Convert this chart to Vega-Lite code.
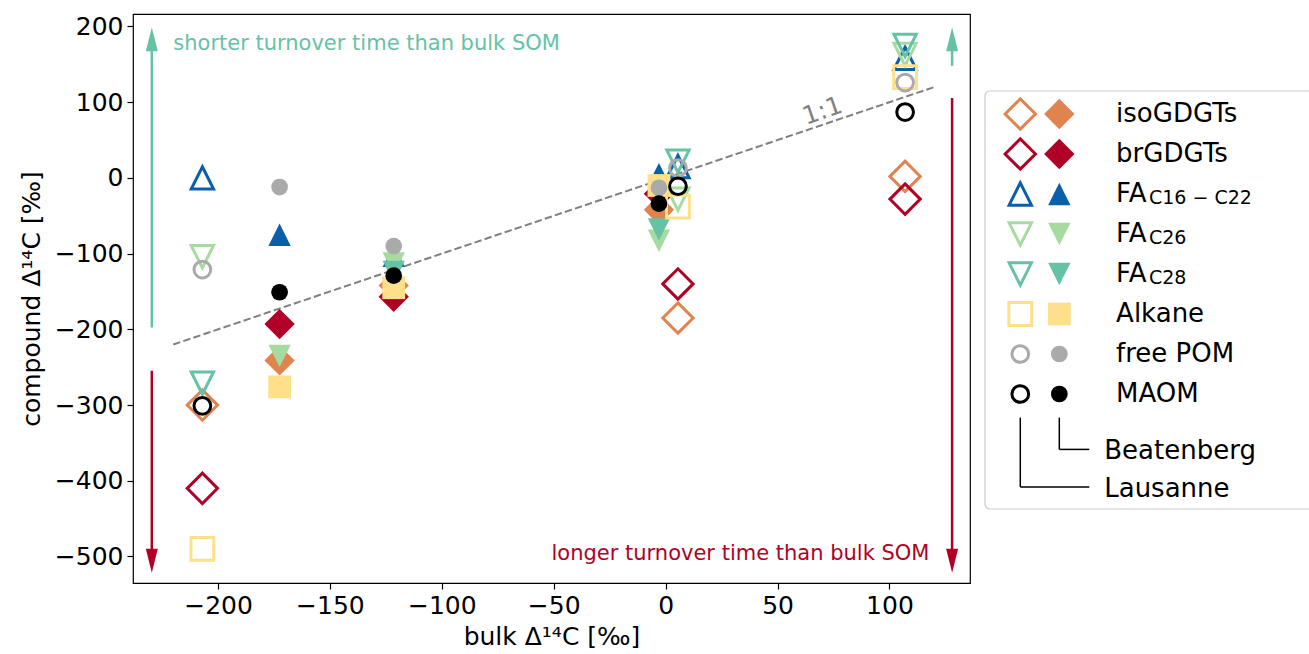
{
  "$schema": "https://vega.github.io/schema/vega-lite/v6.json",
  "padding": {"left": 18, "top": 13, "right": 0, "bottom": 0},
  "spacing": 0,
  "background": "white",
  "config": {
    "font": "DejaVu Sans",
    "axis": {"labelFont": "DejaVu Sans", "titleFont": "DejaVu Sans", "labelFontSize": 25, "titleFontSize": 25, "labelColor": "black", "titleColor": "black", "titleFontWeight": "normal", "tickColor": "black", "tickSize": 6, "tickWidth": 1.2, "domain": false, "grid": false, "labelPadding": 4},
    "view": {"stroke": null}
  },
  "resolve": {"scale": {"x": "independent", "y": "independent", "shape": "independent", "size": "independent", "stroke": "independent", "fill": "independent"}},
  "datasets": {
    "pts": [
      {"group": "isoGDGTs", "site": "Lausanne", "bulk": -207, "compound": -300},
      {"group": "isoGDGTs", "site": "Beatenberg", "bulk": -172.5, "compound": -241},
      {"group": "isoGDGTs", "site": "Beatenberg", "bulk": -121.5, "compound": -142},
      {"group": "isoGDGTs", "site": "Beatenberg", "bulk": -3, "compound": -42},
      {"group": "isoGDGTs", "site": "Lausanne", "bulk": 5.5, "compound": -185},
      {"group": "isoGDGTs", "site": "Lausanne", "bulk": 107, "compound": 2},
      {"group": "brGDGTs", "site": "Lausanne", "bulk": -207, "compound": -410},
      {"group": "brGDGTs", "site": "Beatenberg", "bulk": -172.5, "compound": -193},
      {"group": "brGDGTs", "site": "Beatenberg", "bulk": -121.5, "compound": -157},
      {"group": "brGDGTs", "site": "Beatenberg", "bulk": -3, "compound": -21},
      {"group": "brGDGTs", "site": "Lausanne", "bulk": 5.5, "compound": -140},
      {"group": "brGDGTs", "site": "Lausanne", "bulk": 107, "compound": -28},
      {"group": "FA16", "site": "Lausanne", "bulk": -207, "compound": 0},
      {"group": "FA16", "site": "Beatenberg", "bulk": -172.5, "compound": -75},
      {"group": "FA16", "site": "Beatenberg", "bulk": -121.5, "compound": -103},
      {"group": "FA16", "site": "Beatenberg", "bulk": -3, "compound": 5},
      {"group": "FA16", "site": "Lausanne", "bulk": 5.5, "compound": 15},
      {"group": "FA16", "site": "Lausanne", "bulk": 107, "compound": 158},
      {"group": "FA26", "site": "Lausanne", "bulk": -207, "compound": -104},
      {"group": "FA26", "site": "Beatenberg", "bulk": -172.5, "compound": -235},
      {"group": "FA26", "site": "Beatenberg", "bulk": -121.5, "compound": -113},
      {"group": "FA26", "site": "Beatenberg", "bulk": -3, "compound": -83},
      {"group": "FA26", "site": "Lausanne", "bulk": 5.5, "compound": -28},
      {"group": "FA26", "site": "Lausanne", "bulk": 107, "compound": 163},
      {"group": "FA28", "site": "Lausanne", "bulk": -207, "compound": -271},
      {"group": "FA28", "site": "Beatenberg", "bulk": -121.5, "compound": -124},
      {"group": "FA28", "site": "Beatenberg", "bulk": -3, "compound": -68},
      {"group": "FA28", "site": "Lausanne", "bulk": 5.5, "compound": 22},
      {"group": "FA28", "site": "Lausanne", "bulk": 107, "compound": 175},
      {"group": "Alkane", "site": "Lausanne", "bulk": -207, "compound": -490},
      {"group": "Alkane", "site": "Beatenberg", "bulk": -172.5, "compound": -276},
      {"group": "Alkane", "site": "Beatenberg", "bulk": -121.5, "compound": -145},
      {"group": "Alkane", "site": "Beatenberg", "bulk": -3, "compound": -10},
      {"group": "Alkane", "site": "Lausanne", "bulk": 5.5, "compound": -38},
      {"group": "Alkane", "site": "Lausanne", "bulk": 107, "compound": 133},
      {"group": "freePOM", "site": "Lausanne", "bulk": -207, "compound": -121},
      {"group": "freePOM", "site": "Beatenberg", "bulk": -172.5, "compound": -12},
      {"group": "freePOM", "site": "Beatenberg", "bulk": -121.5, "compound": -90},
      {"group": "freePOM", "site": "Beatenberg", "bulk": -3, "compound": -13},
      {"group": "freePOM", "site": "Lausanne", "bulk": 5.5, "compound": 13},
      {"group": "freePOM", "site": "Lausanne", "bulk": 107, "compound": 126},
      {"group": "MAOM", "site": "Lausanne", "bulk": -207, "compound": -301},
      {"group": "MAOM", "site": "Beatenberg", "bulk": -172.5, "compound": -151},
      {"group": "MAOM", "site": "Beatenberg", "bulk": -121.5, "compound": -129},
      {"group": "MAOM", "site": "Beatenberg", "bulk": -3, "compound": -34},
      {"group": "MAOM", "site": "Lausanne", "bulk": 5.5, "compound": -11},
      {"group": "MAOM", "site": "Lausanne", "bulk": 107, "compound": 87}
    ],
    "groups": [
      {"group": "isoGDGTs", "r": 0, "label": "isoGDGTs", "sub": ""},
      {"group": "brGDGTs", "r": 1, "label": "brGDGTs", "sub": ""},
      {"group": "FA16", "r": 2, "label": "FA", "sub": "C16 − C22"},
      {"group": "FA26", "r": 3, "label": "FA", "sub": "C26"},
      {"group": "FA28", "r": 4, "label": "FA", "sub": "C28"},
      {"group": "Alkane", "r": 5, "label": "Alkane", "sub": ""},
      {"group": "freePOM", "r": 6, "label": "free POM", "sub": ""},
      {"group": "MAOM", "r": 7, "label": "MAOM", "sub": ""}
    ]
  },
  "hconcat": [
    {
      "width": 837,
      "height": 569,
      "view": {"stroke": "black", "strokeWidth": 1.2},
      "encoding": {
        "x": {"field": "bulk", "type": "quantitative", "scale": {"domain": [-238, 136], "nice": false, "zero": false}, "axis": {"values": [-200, -150, -100, -50, 0, 50, 100], "title": "bulk Δ¹⁴C [‰]", "titlePadding": 6}},
        "y": {"field": "compound", "type": "quantitative", "scale": {"domain": [-535, 216.5], "nice": false, "zero": false}, "axis": {"values": [-500, -400, -300, -200, -100, 0, 100, 200], "title": "compound Δ¹⁴C [‰]", "titlePadding": 10}}
      },
      "layer": [
        {
          "data": {"values": [{"bulk": -220, "compound": -220}, {"bulk": 120, "compound": 120}]},
          "mark": {"type": "line", "color": "#808080", "strokeWidth": 2, "strokeDash": [7.4, 3.2]}
        },
        {
          "data": {"values": [{"bulk": -229.6, "compound": -197.5, "compound2": 170}, {"bulk": 128, "compound": 148, "compound2": 170}]},
          "mark": {"type": "rule", "color": "#66c2a5", "strokeWidth": 2.5},
          "encoding": {"y2": {"field": "compound2"}}
        },
        {
          "data": {"values": [{"bulk": -229.6, "compound": -254.7, "compound2": -495}, {"bulk": 128, "compound": 105.5, "compound2": -495}]},
          "mark": {"type": "rule", "color": "#b10026", "strokeWidth": 2.5},
          "encoding": {"y2": {"field": "compound2"}}
        },
        {
          "data": {"values": [{"bulk": -229.6, "compound": 183}, {"bulk": 128, "compound": 183}]},
          "mark": {"type": "point", "shape": "M-0.5,1L0,-1L0.5,1Z", "size": 576, "filled": true, "color": "#66c2a5", "opacity": 1, "strokeWidth": 0}
        },
        {
          "data": {"values": [{"bulk": -229.6, "compound": -505.5}, {"bulk": 128, "compound": -505.5}]},
          "mark": {"type": "point", "shape": "M-0.5,-1L0,1L0.5,-1Z", "size": 576, "filled": true, "color": "#b10026", "opacity": 1, "strokeWidth": 0}
        },
        {
          "data": {"values": [{"bulk": -220, "compound": 177.3, "note": "shorter turnover time than bulk SOM"}]},
          "mark": {"type": "text", "align": "left", "baseline": "middle", "fontSize": 21, "color": "#66c2a5", "font": "DejaVu Sans"},
          "encoding": {"text": {"field": "note"}}
        },
        {
          "data": {"values": [{"bulk": 117.9, "compound": -496.4, "note": "longer turnover time than bulk SOM"}]},
          "mark": {"type": "text", "align": "right", "baseline": "middle", "fontSize": 21, "color": "#b10026", "font": "DejaVu Sans"},
          "encoding": {"text": {"field": "note"}}
        },
        {
          "data": {"values": [{"bulk": 70, "compound": 88.5, "note": "1:1"}]},
          "mark": {"type": "text", "align": "center", "baseline": "middle", "fontSize": 25, "color": "#808080", "angle": -19, "font": "DejaVu Sans"},
          "encoding": {"text": {"field": "note"}}
        },
        {
          "data": {"name": "pts"},
          "mark": {"type": "point", "opacity": 1, "fillOpacity": 1, "strokeOpacity": 1},
          "encoding": {
            "shape": {"field": "group", "type": "nominal", "legend": null, "scale": {"type": "ordinal", "domain": ["isoGDGTs", "brGDGTs", "FA16", "FA26", "FA28", "Alkane", "freePOM", "MAOM"], "range": ["diamond", "diamond", "M0,-1L1,1L-1,1Z", "M0,1L1,-1L-1,-1Z", "M0,1L1,-1L-1,-1Z", "square", "circle", "circle"]}},
            "size": {"field": "group", "type": "nominal", "legend": null, "scale": {"type": "ordinal", "domain": ["isoGDGTs", "brGDGTs", "FA16", "FA26", "FA28", "Alkane", "freePOM", "MAOM"], "range": [920, 920, 500, 500, 500, 520, 280, 280]}},
            "stroke": {"field": "group", "type": "nominal", "legend": null, "scale": {"type": "ordinal", "domain": ["isoGDGTs", "brGDGTs", "FA16", "FA26", "FA28", "Alkane", "freePOM", "MAOM"], "range": ["#e0844f", "#b10026", "#0a5eaa", "#a6dba0", "#66c2a5", "#fee08b", "#aaaaaa", "#000000"]}},
            "fill": {"condition": {"test": "datum.site === 'Beatenberg'", "field": "group", "type": "nominal", "legend": null, "scale": {"type": "ordinal", "domain": ["isoGDGTs", "brGDGTs", "FA16", "FA26", "FA28", "Alkane", "freePOM", "MAOM"], "range": ["#e0844f", "#b10026", "#0a5eaa", "#a6dba0", "#66c2a5", "#fee08b", "#aaaaaa", "#000000"]}}, "value": "transparent"},
            "strokeWidth": {"condition": {"test": "datum.site === 'Lausanne'", "value": 3}, "value": 0}
          }
        }
      ]
    },
    {
      "width": 339,
      "height": 569,
      "encoding": {
        "y": {"field": "r", "type": "quantitative", "scale": {"domain": [-2.5, 11.725], "nice": false, "zero": false, "reverse": true}, "axis": null}
      },
      "layer": [
        {
          "data": {"values": [{"xa": 4.13, "xb": 101, "r": -0.575, "rb": 9.875}]},
          "mark": {"type": "rect", "fill": "white", "stroke": "#cccccc", "strokeWidth": 1.2, "cornerRadius": 5},
          "encoding": {
            "x": {"field": "xa", "type": "quantitative", "scale": {"domain": [0, 100], "nice": false, "zero": false}, "axis": null},
            "x2": {"field": "xb"},
            "y2": {"field": "rb"}
          }
        },
        {
          "data": {"name": "groups"},
          "mark": {"type": "point", "opacity": 1, "filled": false, "strokeWidth": 3, "fill": "transparent"},
          "encoding": {
            "x": {"datum": 14.54, "type": "quantitative"},
            "shape": {"field": "group", "type": "nominal", "legend": null, "scale": {"type": "ordinal", "domain": ["isoGDGTs", "brGDGTs", "FA16", "FA26", "FA28", "Alkane", "freePOM", "MAOM"], "range": ["diamond", "diamond", "M0,-1L1,1L-1,1Z", "M0,1L1,-1L-1,-1Z", "M0,1L1,-1L-1,-1Z", "square", "circle", "circle"]}},
            "size": {"field": "group", "type": "nominal", "legend": null, "scale": {"type": "ordinal", "domain": ["isoGDGTs", "brGDGTs", "FA16", "FA26", "FA28", "Alkane", "freePOM", "MAOM"], "range": [920, 920, 500, 500, 500, 520, 280, 280]}},
            "stroke": {"field": "group", "type": "nominal", "legend": null, "scale": {"type": "ordinal", "domain": ["isoGDGTs", "brGDGTs", "FA16", "FA26", "FA28", "Alkane", "freePOM", "MAOM"], "range": ["#e0844f", "#b10026", "#0a5eaa", "#a6dba0", "#66c2a5", "#fee08b", "#aaaaaa", "#000000"]}}
          }
        },
        {
          "data": {"name": "groups"},
          "mark": {"type": "point", "opacity": 1, "filled": true, "strokeWidth": 0},
          "encoding": {
            "x": {"datum": 26.05, "type": "quantitative"},
            "shape": {"field": "group", "type": "nominal", "legend": null, "scale": {"type": "ordinal", "domain": ["isoGDGTs", "brGDGTs", "FA16", "FA26", "FA28", "Alkane", "freePOM", "MAOM"], "range": ["diamond", "diamond", "M0,-1L1,1L-1,1Z", "M0,1L1,-1L-1,-1Z", "M0,1L1,-1L-1,-1Z", "square", "circle", "circle"]}},
            "size": {"field": "group", "type": "nominal", "legend": null, "scale": {"type": "ordinal", "domain": ["isoGDGTs", "brGDGTs", "FA16", "FA26", "FA28", "Alkane", "freePOM", "MAOM"], "range": [920, 920, 500, 500, 500, 520, 280, 280]}},
            "fill": {"field": "group", "type": "nominal", "legend": null, "scale": {"type": "ordinal", "domain": ["isoGDGTs", "brGDGTs", "FA16", "FA26", "FA28", "Alkane", "freePOM", "MAOM"], "range": ["#e0844f", "#b10026", "#0a5eaa", "#a6dba0", "#66c2a5", "#fee08b", "#aaaaaa", "#000000"]}}
          }
        },
        {
          "data": {"name": "groups"},
          "mark": {"type": "text", "align": "left", "baseline": "alphabetic", "dy": 8, "fontSize": 26, "color": "black", "font": "DejaVu Sans"},
          "encoding": {
            "x": {"datum": 42.8, "type": "quantitative"},
            "text": {"field": "label"}
          }
        },
        {
          "data": {"name": "groups"},
          "transform": [{"filter": "datum.sub !== ''"}],
          "mark": {"type": "text", "align": "left", "baseline": "alphabetic", "dy": 10, "fontSize": 19, "color": "black", "font": "DejaVu Sans"},
          "encoding": {
            "x": {"datum": 52.5, "type": "quantitative"},
            "text": {"field": "sub"}
          }
        },
        {
          "data": {"values": [
            {"xa": 14.54, "xb": 14.54, "r": 7.59, "rb": 9.325},
            {"xa": 14.54, "xb": 34.9, "r": 9.325, "rb": 9.325},
            {"xa": 26.05, "xb": 26.05, "r": 7.59, "rb": 8.385},
            {"xa": 26.05, "xb": 34.9, "r": 8.385, "rb": 8.385}
          ]},
          "mark": {"type": "rule", "color": "black", "strokeWidth": 1.5},
          "encoding": {
            "x": {"field": "xa", "type": "quantitative"},
            "x2": {"field": "xb"},
            "y2": {"field": "rb"}
          }
        },
        {
          "data": {"values": [{"site": "Beatenberg", "r": 8.385}, {"site": "Lausanne", "r": 9.325}]},
          "mark": {"type": "text", "align": "left", "baseline": "alphabetic", "dy": 10, "fontSize": 26, "color": "black", "font": "DejaVu Sans"},
          "encoding": {
            "x": {"datum": 39.3, "type": "quantitative"},
            "text": {"field": "site"}
          }
        }
      ]
    }
  ]
}
